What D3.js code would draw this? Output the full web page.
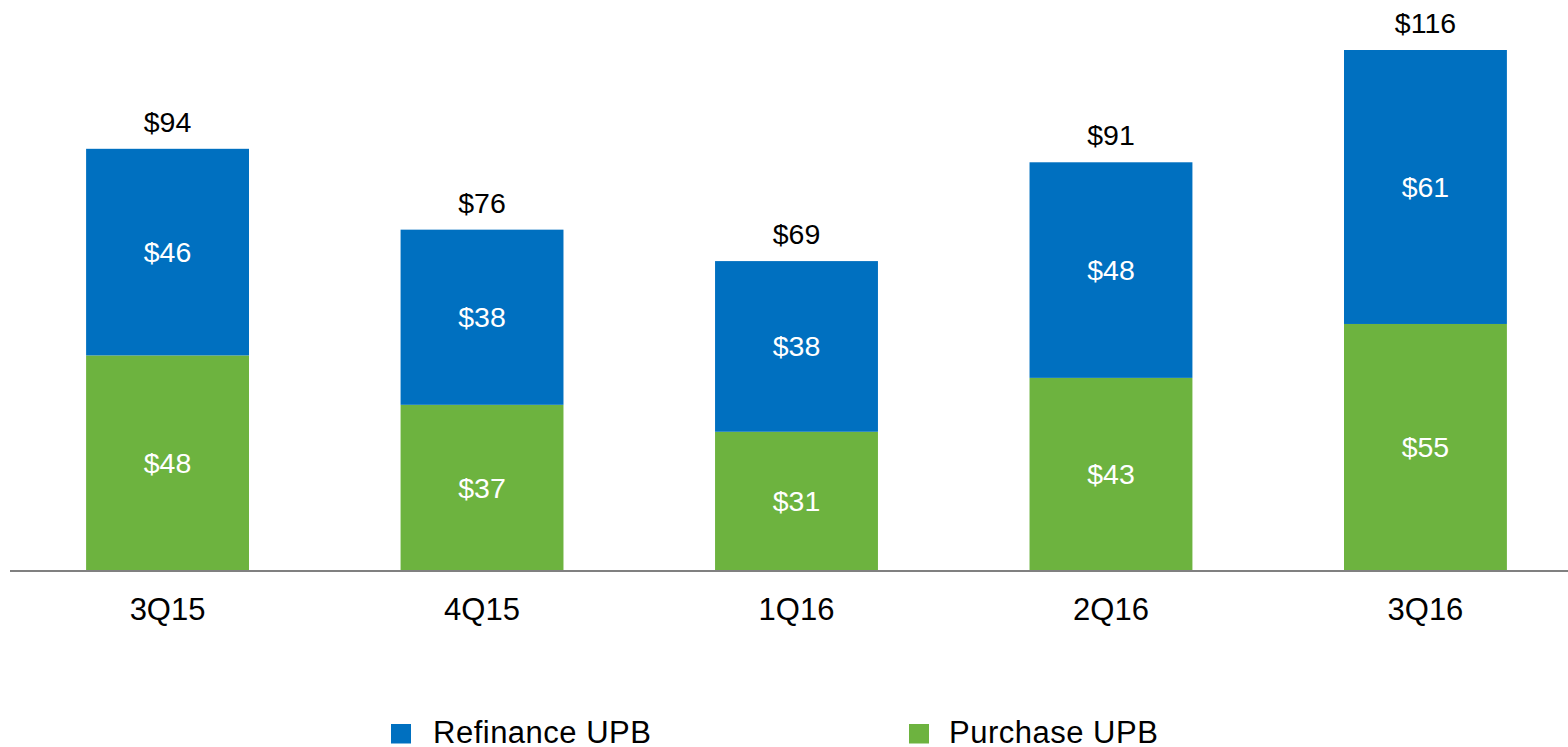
<!DOCTYPE html>
<html>
<head>
<meta charset="utf-8">
<script src="https://cdn.jsdelivr.net/npm/d3@7"></script>
<style>
  body { margin: 0; background: #fff; }
  svg text { font-family: "Liberation Sans", Arial, sans-serif; }
</style>
</head>
<body>
<div id="chart"></div>
<script>
var quarters = ['3Q15', '4Q15', '1Q16', '2Q16', '3Q16'];
var purchase = [48, 37, 31, 43, 55];
var refinance = [46, 38, 38, 48, 61];
var totals = [94, 76, 69, 91, 116];
var seriesNames = ['Refinance UPB', 'Purchase UPB'];
var colors = { refinance: '#0070C0', purchase: '#6DB33F' };

var width = 1568, height = 747;
var baseY = 571;

var svg = d3.select('#chart').append('svg')
  .attr('width', width)
  .attr('height', height);

var x = d3.scaleBand()
  .domain(quarters)
  .range([10, 1583])
  .paddingInner(0.482)
  .paddingOuter(0.242);

var y = d3.scaleLinear()
  .domain([0, d3.max(totals)])
  .range([baseY, 50]);

var rows = quarters.map(function(q, i) {
  return { q: q, purchase: purchase[i], refinance: refinance[i], total: totals[i] };
});

var groups = svg.selectAll('g.bar')
  .data(rows)
  .enter()
  .append('g')
  .attr('class', 'bar');

// purchase on the bottom
groups.append('rect')
  .attr('x', function(d) { return x(d.q); })
  .attr('width', x.bandwidth())
  .attr('y', function(d) { return y(d.purchase); })
  .attr('height', function(d) { return y(0) - y(d.purchase); })
  .style('fill', colors.purchase);

// refinance stacked above, top at the total
groups.append('rect')
  .attr('x', function(d) { return x(d.q); })
  .attr('width', x.bandwidth())
  .attr('y', function(d) { return y(d.total); })
  .attr('height', function(d) { return y(d.purchase) - y(d.total); })
  .style('fill', colors.refinance);

groups.append('text')
  .attr('x', function(d) { return x(d.q) + x.bandwidth() / 2; })
  .attr('y', function(d) { return (y(0) + y(d.purchase)) / 2; })
  .attr('dy', '0.35em')
  .attr('text-anchor', 'middle')
  .style('font-size', '28.5px')
  .style('fill', '#fff')
  .text(function(d) { return '$' + d.purchase; });

groups.append('text')
  .attr('x', function(d) { return x(d.q) + x.bandwidth() / 2; })
  .attr('y', function(d) { return (y(d.purchase) + y(d.total)) / 2; })
  .attr('dy', '0.35em')
  .attr('text-anchor', 'middle')
  .style('font-size', '28.5px')
  .style('fill', '#fff')
  .text(function(d) { return '$' + d.refinance; });

groups.append('text')
  .attr('x', function(d) { return x(d.q) + x.bandwidth() / 2; })
  .attr('y', function(d) { return y(d.total) - 17; })
  .attr('text-anchor', 'middle')
  .style('font-size', '28.5px')
  .style('fill', '#000')
  .text(function(d) { return '$' + d.total; });

var xAxis = svg.append('g')
  .attr('transform', 'translate(0,' + baseY + ')')
  .call(d3.axisBottom(x).tickSize(0));

xAxis.select('.domain')
  .attr('d', 'M10,0H1568')
  .style('stroke', '#808080')
  .style('stroke-width', 2);

xAxis.selectAll('text')
  .attr('y', 48.5)
  .attr('dy', 0)
  .style('font-size', '31px')
  .style('fill', '#000')
  .style('font-family', '"Liberation Sans", Arial, sans-serif');

// legend
var legendSquareX = [391, 909];
var legendTextX = [433, 949];
var legendColors = [colors.refinance, colors.purchase];
var legend = svg.selectAll('g.legend')
  .data(seriesNames)
  .enter()
  .append('g')
  .attr('class', 'legend');

legend.append('rect')
  .attr('x', function(d, i) { return legendSquareX[i]; })
  .attr('y', 724)
  .attr('width', 20)
  .attr('height', 19.5)
  .style('fill', function(d, i) { return legendColors[i]; });

legend.append('text')
  .attr('x', function(d, i) { return legendTextX[i]; })
  .attr('y', 742.5)
  .style('font-size', '31px')
  .style('letter-spacing', '0.5px')
  .style('fill', '#000')
  .text(function(d) { return d; });
</script>
</body>
</html>
